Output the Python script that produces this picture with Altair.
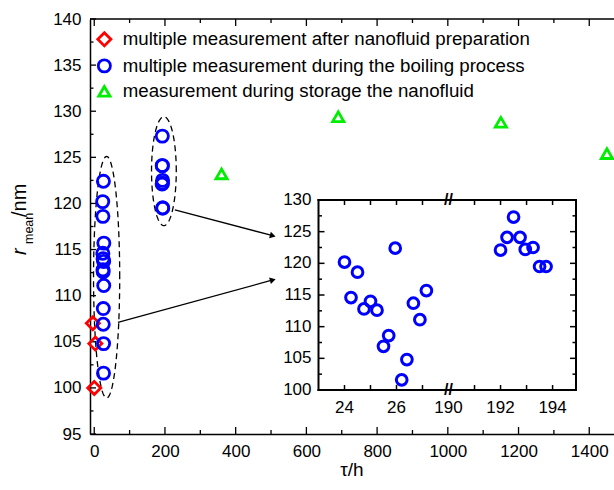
import altair as alt
import numpy as np
import pandas as pd

FONT = "Liberation Sans"
W, H = 524, 415

SERIES = [
    "multiple measurement after nanofluid preparation",
    "multiple measurement during the boiling process",
    "measurement during storage the nanofluid",
]
COLORS = ["#ff0000", "#0000ff", "#00ee00"]
SHAPES = ["diamond", "circle", "triangle-up"]
SIZES = [170, 125, 190]

# mean particle radius (nm) against time (h)
prep_t = [-4, 3, 0]
prep_r = [107.0, 104.8, 100.0]

boil_day1_t = [24.0, 24.25, 24.5, 24.75, 25.0, 25.25, 25.5, 25.7, 25.95, 26.2, 26.4, 26.65, 26.9, 27.15]
boil_day1_r = [120.2, 114.6, 118.6, 112.8, 114.0, 112.6, 106.9, 108.6, 122.4, 101.6, 104.8, 113.7, 111.1, 115.7]

boil_day8_t = [192.0, 192.25, 192.5, 192.75, 192.95, 193.25, 193.5, 193.75]
boil_day8_r = [122.1, 124.1, 127.3, 124.1, 122.2, 122.5, 119.5, 119.5]

storage_t = [360, 690, 1150, 1450]
storage_r = [123.2, 129.4, 128.8, 125.4]

# main axes
X_DOMAIN = [-12, 1470]
Y_DOMAIN = [95, 140]
x_major = list(range(0, 1401, 200))
x_minor = list(range(100, 1401, 200))
y_major = list(range(95, 141, 5))
y_minor = [v + 2.5 for v in range(95, 140, 5)]

# dashed ellipses grouping the boiling measurements: (center t, center r, radius t, radius r)
ELLIPSES = [(35, 112.0, 37, 13.1), (197, 123.5, 35, 5.9)]

# arrows from the groups to the inset: (t, r) -> (t2, r2)
ARROWS = [(228, 119.3, 505, 116.5), (67, 107.1, 505, 111.7)]

# inset axes (broken time axis)
INSET_LEFT = [23, 28]
INSET_RIGHT = [190, 194.9]
INSET_Y = [100, 130]
inset_y_major = list(range(100, 131, 5))
inset_y_minor = [v + 2.5 for v in range(100, 130, 5)]

# ---------------------------------------------------------------- data frames
pts = pd.DataFrame({
    "t": prep_t + boil_day1_t + boil_day8_t + storage_t,
    "r": prep_r + boil_day1_r + boil_day8_r + storage_r,
    "series": [SERIES[0]] * len(prep_t)
    + [SERIES[1]] * (len(boil_day1_t) + len(boil_day8_t))
    + [SERIES[2]] * len(storage_t),
})

ell_rows = []
for k, (cx, cy, rx, ry) in enumerate(ELLIPSES):
    th = np.linspace(0, 2 * np.pi, 145)
    for i, a in enumerate(th):
        ell_rows.append({"t": cx + rx * np.cos(a), "r": cy + ry * np.sin(a), "k": k, "i": i})
ell = pd.DataFrame(ell_rows)

sx = W / (X_DOMAIN[1] - X_DOMAIN[0])
sy = H / (Y_DOMAIN[1] - Y_DOMAIN[0])
arr = pd.DataFrame(ARROWS, columns=["t", "r", "t2", "r2"])
arr["ang"] = [
    float(np.degrees(np.arctan2(-(r2 - r) * sy, (t2 - t) * sx)) % 360)
    for t, r, t2, r2 in ARROWS
]

one = pd.DataFrame({"a": [0]})

# ---------------------------------------------------------------- main plot
xs = alt.Scale(domain=X_DOMAIN, nice=False, zero=False)
ys = alt.Scale(domain=Y_DOMAIN, nice=False, zero=False)
x_axis = alt.Axis(values=x_major, format="d", ticks=False, grid=False, domainColor="black",
                  domainWidth=1.5, labelFont=FONT, labelFontSize=17, labelColor="black",
                  labelPadding=9, labelFlush=False, title=None)
y_axis = alt.Axis(values=y_major, format="d", ticks=False, grid=False, domainColor="black",
                  domainWidth=1.5, labelFont=FONT, labelFontSize=17, labelColor="black",
                  labelPadding=9, labelFlush=False, title=None)


def X(f="t"):
    return alt.X(f"{f}:Q", scale=xs, axis=x_axis)


def Y(f="r"):
    return alt.Y(f"{f}:Q", scale=ys, axis=y_axis)


ellipses = alt.Chart(ell).mark_line(color="black", strokeWidth=1.3, strokeDash=[6, 4]).encode(
    x=X(), y=Y(), detail="k:N", order="i:Q")

arrow_lines = alt.Chart(arr).mark_rule(color="black", strokeWidth=1.3).encode(
    x=X(), y=Y(), x2="t2:Q", y2="r2:Q")
arrow_heads = alt.Chart(arr).mark_point(shape="triangle-right", filled=True, color="black",
                                        size=45, opacity=1).encode(
    x=X("t2"), y=Y("r2"), angle=alt.Angle("ang:Q", scale=None))

points = alt.Chart(pts).mark_point(filled=False, strokeWidth=2.8, opacity=1).encode(
    x=X(), y=Y(),
    color=alt.Color("series:N", scale=alt.Scale(domain=SERIES, range=COLORS),
                    legend=alt.Legend(orient="none", legendX=5, legendY=11, title=None,
                                      labelFont=FONT, labelFontSize=18.7, labelColor="black",
                                      symbolSize=150, symbolStrokeWidth=2.8, rowPadding=1.5,
                                      labelOffset=9, labelLimit=600)),
    shape=alt.Shape("series:N", scale=alt.Scale(domain=SERIES, range=SHAPES)),
    size=alt.Size("series:N", scale=alt.Scale(domain=SERIES, range=SIZES), legend=None),
)

xmaj = pd.DataFrame({"t": x_major})
xmin = pd.DataFrame({"t": x_minor})
ymaj = pd.DataFrame({"r": y_major})
ymin = pd.DataFrame({"r": y_minor})
tick = dict(color="black", strokeWidth=1.3)
main_ticks = [
    alt.Chart(xmaj).mark_rule(**tick).encode(x=X(), y=alt.value(H), y2=alt.value(H - 7)),
    alt.Chart(xmin).mark_rule(**tick).encode(x=X(), y=alt.value(H), y2=alt.value(H - 4)),
    alt.Chart(xmaj).mark_rule(**tick).encode(x=X(), y=alt.value(0), y2=alt.value(7)),
    alt.Chart(xmin).mark_rule(**tick).encode(x=X(), y=alt.value(0), y2=alt.value(4)),
    alt.Chart(ymaj).mark_rule(**tick).encode(y=Y(), x=alt.value(0), x2=alt.value(6)),
    alt.Chart(ymin).mark_rule(**tick).encode(y=Y(), x=alt.value(0), x2=alt.value(3.5)),
]
top_border = alt.Chart(one).mark_rule(color="black", strokeWidth=1.5).encode(
    x=alt.value(0), x2=alt.value(W), y=alt.value(0))

# axis titles: r_mean/nm (rotated, with subscript) and τ/h
txt = dict(font=FONT, color="black", angle=270, align="left", baseline="alphabetic")
y_title = [
    alt.Chart(one).mark_text(text="r", fontSize=20, fontStyle="italic", **txt).encode(
        x=alt.value(-64), y=alt.value(236)),
    alt.Chart(one).mark_text(text="mean", fontSize=12.5, **txt).encode(
        x=alt.value(-57), y=alt.value(225)),
    alt.Chart(one).mark_text(text="/nm", fontSize=20, **txt).encode(
        x=alt.value(-64), y=alt.value(198)),
]
x_title = alt.Chart(one).mark_text(text="τ/h", fontSize=19, font=FONT, color="black",
                                   align="center", baseline="middle").encode(
    x=alt.value(W / 2), y=alt.value(451))

main = alt.layer(ellipses, arrow_lines, arrow_heads, *main_ticks, top_border,
                 *y_title, x_title, points)

# ---------------------------------------------------------------- inset
xsl = alt.Scale(domain=INSET_LEFT, range=[228.5, 358.5], nice=False, zero=False)
xsr = alt.Scale(domain=INSET_RIGHT, range=[358.5, 486], nice=False, zero=False)
ysi = alt.Scale(domain=INSET_Y, range=[371, 181], nice=False, zero=False)
frame = dict(color="black", strokeWidth=2, strokeCap="square")
itick = dict(color="black", strokeWidth=1.5)
ilab = dict(font=FONT, fontSize=17, color="black")


def inset_panel(xscale, dom, tick_vals, label_vals, t_vals, r_vals, side):
    def IX(f="t"):
        return alt.X(f"{f}:Q", scale=xscale, axis=None)

    def IY(f="r"):
        return alt.Y(f"{f}:Q", scale=ysi, axis=None)

    def XD(v):
        return alt.XDatum(v, type="quantitative", scale=xscale, axis=None)

    def YD(v):
        return alt.YDatum(v, type="quantitative", scale=ysi, axis=None)

    edge = dom[0] if side == "left" else dom[1]
    sgn = 1 if side == "left" else -1
    yb = pd.DataFrame({"r": INSET_Y})
    tv = pd.DataFrame({"t": tick_vals})
    layers = [
        alt.Chart(yb).mark_rule(**frame).encode(x=XD(dom[0]), x2=alt.X2Datum(dom[1]), y=IY()),
        alt.Chart(one).mark_rule(**frame).encode(x=XD(edge), y=YD(INSET_Y[0]),
                                                 y2=alt.Y2Datum(INSET_Y[1])),
        alt.Chart(tv).mark_rule(y2Offset=-5, **itick).encode(
            x=IX(), y=YD(INSET_Y[0]), y2=alt.Y2Datum(INSET_Y[0])),
        alt.Chart(tv).mark_rule(y2Offset=5, **itick).encode(
            x=IX(), y=YD(INSET_Y[1]), y2=alt.Y2Datum(INSET_Y[1])),
        alt.Chart(pd.DataFrame({"r": inset_y_major})).mark_rule(x2Offset=6 * sgn, **itick).encode(
            y=IY(), x=XD(edge), x2=alt.X2Datum(edge)),
        alt.Chart(pd.DataFrame({"r": inset_y_minor})).mark_rule(x2Offset=3.5 * sgn, **itick).encode(
            y=IY(), x=XD(edge), x2=alt.X2Datum(edge)),
        alt.Chart(pd.DataFrame({"t": label_vals})).mark_text(
            align="center", baseline="middle", dy=18, **ilab).encode(
            x=IX(), y=YD(INSET_Y[0]), text=alt.Text("t:Q", format="d")),
        alt.Chart(pd.DataFrame({"t": t_vals, "r": r_vals})).mark_point(
            shape="circle", filled=False, size=115, strokeWidth=3, color="#0000ff", opacity=1).encode(
            x=IX(), y=IY()),
    ]
    if side == "left":
        layers.append(
            alt.Chart(pd.DataFrame({"r": inset_y_major})).mark_text(
                align="right", baseline="middle", dx=-7, **ilab).encode(
                x=XD(edge), y=IY(), text=alt.Text("r:Q", format="d")))
    else:
        layers.append(
            alt.Chart(yb).mark_text(text="//", align="center", baseline="middle",
                                    fontSize=16, fontWeight="bold", font=FONT, color="black").encode(
                x=XD(dom[0]), y=IY()))
    return alt.layer(*layers)


inset_l = inset_panel(xsl, INSET_LEFT, [24, 25, 26, 27], [24, 26],
                      boil_day1_t, boil_day1_r, "left")
inset_r = inset_panel(xsr, INSET_RIGHT, [191, 192, 193, 194], [190, 192, 194],
                      boil_day8_t, boil_day8_r, "right")

chart = (
    alt.layer(main, inset_l, inset_r)
    .resolve_scale(x="independent", y="independent")
    .properties(width=W, height=H,
                padding={"left": 90, "top": 19, "right": 0, "bottom": 56},
                autosize=alt.AutoSizeParams(type="none"),
                background="white")
    .configure_view(stroke=None)
)

chart.save("out.html", embed_options={"renderer": "svg", "actions": False})
